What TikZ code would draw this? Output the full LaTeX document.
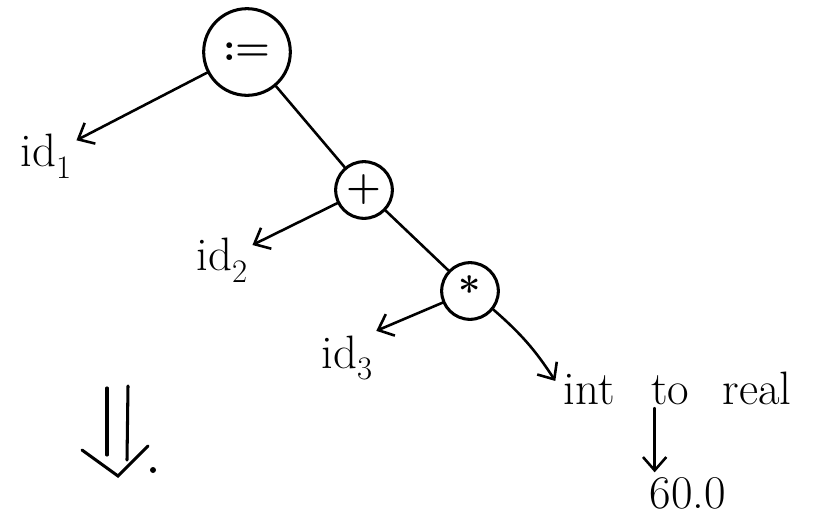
\documentclass[tikz,border=0pt]{standalone}
\usetikzlibrary{arrows.meta}
\begin{document}
\begin{tikzpicture}[x=0.03cm,y=-0.03cm,line width=2.2pt,line cap=round,
  op/.style={draw,circle,inner sep=0pt,line width=2.6pt,font=\fontsize{34}{36}\selectfont\bfseries},
  lbl/.style={inner sep=3pt,font=\fontsize{40}{44}\selectfont},
  arr/.style={-{Straight Barb[length=4mm,width=7mm,line width=2.2pt]}}]
\useasboundingbox (0,0) rectangle (827,521);
\node[op,minimum size=2.6cm] (assign) at (247,52) {:=};
\node[lbl] (id1) at (46,156) {id\textsubscript{1}};
\node[op,minimum size=1.7cm] (plus) at (364,190) {+};
\node[lbl] (id2) at (222,260) {id\textsubscript{2}};
\node[op,minimum size=1.7cm] (times) at (470,291) {*};
\node[lbl] (id3) at (347,358) {id\textsubscript{3}};
\node[lbl,anchor=west,inner sep=2pt] (conv) at (560,388) {int\hspace{1.1cm}to\hspace{1.0cm}real};
\node[lbl] (num) at (688,493) {60.0};
\draw[arr] (assign) -- (id1);
\draw (assign) -- (plus);
\draw[arr] (plus) -- (id2);
\draw (plus) -- (times);
\draw[arr] (times) to ([xshift=-1pt]id3.north east);
\draw[arr] (times) to[bend left=8] ([xshift=-4pt,yshift=6pt]conv.west);
\draw[arr] ([xshift=-1.0cm]num.north |- conv.south) -- ([xshift=-1.0cm]num.north);
% double arrow
\draw[line width=2.6pt] (107,388) -- (107,455);
\draw[line width=2.6pt] (128,386) -- (127,460);
\draw[line width=2.6pt] (82,450) -- (118,476) -- (148,446);
\fill (153,470) circle (3);
\end{tikzpicture}
\end{document}
